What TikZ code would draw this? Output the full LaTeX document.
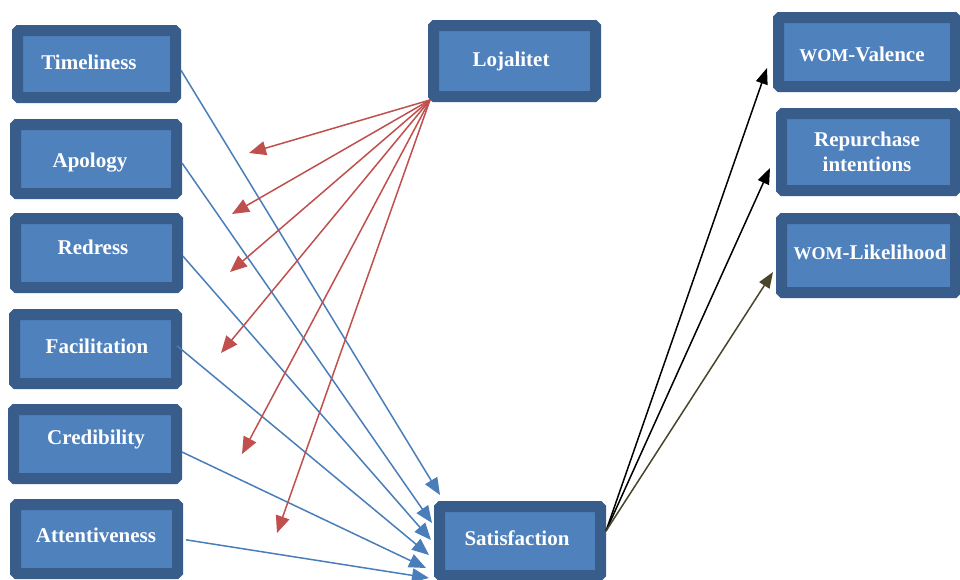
\documentclass[tikz,border=0pt]{standalone}
\usepackage{fontspec}
\setmainfont{Liberation Serif}
\usetikzlibrary{arrows.meta,calc}
\definecolor{boxdark}{HTML}{385D8A}
\definecolor{boxlight}{HTML}{4F81BD}
\definecolor{lineblue}{HTML}{4A7EBB}
\definecolor{linered}{HTML}{C0504D}
\definecolor{lineolive}{HTML}{4A452A}
\tikzset{
  box/.style={draw=boxdark, fill=boxlight, line width=11pt, rounded corners=1.5pt,
    inner sep=0pt},
  boxtext/.style={text=white, align=center, inner sep=0pt, text height=14pt, text depth=0pt,
    font=\fontsize{21}{25}\selectfont\bfseries},
  tip/.style={-{Triangle[length=17pt,width=14pt]}, line width=1.5pt},
  bluearrow/.style={tip, draw=lineblue},
  redarrow/.style={tip, draw=linered},
  blackarrow/.style={-{Triangle[length=16pt,width=12pt]}, line width=1.5pt, draw=black},
  olivearrow/.style={blackarrow, draw=lineolive},
}
\newcommand{\smallwom}{{\fontsize{18}{25}\selectfont WOM}}
\begin{document}
\begin{tikzpicture}[x=1pt,y=-1pt]
\useasboundingbox[fill=white] (0,0) rectangle (960,579);

% boxes
\node[box, minimum width=158pt, minimum height=67pt] (Timeliness) at (96.5,64) {};
\node[box, minimum width=161pt, minimum height=69pt] (Apology) at (96,159) {};
\node[box, minimum width=162pt, minimum height=69pt] (Redress) at (96.5,253) {};
\node[box, minimum width=162pt, minimum height=69pt] (Facilitation) at (95.5,349) {};
\node[box, minimum width=163pt, minimum height=69pt] (Credibility) at (95,444) {};
\node[box, minimum width=162pt, minimum height=69pt] (Attentiveness) at (96.5,539) {};
\node[box, minimum width=162pt, minimum height=71pt] (Lojalitet) at (514.5,61) {};
\node[box, minimum width=161pt, minimum height=69pt] (Satisfaction) at (520,541) {};
\node[box, minimum width=177pt, minimum height=69pt] (WOMValence) at (867,52) {};
\node[box, minimum width=174pt, minimum height=77pt] (Repurchase) at (868.5,152) {};
\node[box, minimum width=174pt, minimum height=74pt] (WOMLikelihood) at (868.5,255.5) {};

% texts
\node[boxtext] (tTimeliness) at (89,62) {Timeliness};
\node[boxtext] (tApology) at (90,160) {Apology};
\node[boxtext] (tRedress) at (93,247) {Redress};
\node[boxtext] (tFacilitation) at (97,346) {Facilitation};
\node[boxtext] (tCredibility) at (96,437) {Credibility};
\node[boxtext] (tAttentiveness) at (96,535) {Attentiveness};
\node[boxtext] (tLojalitet) at (511,59) {Lojalitet};
\node[boxtext] (tSatisfaction) at (517,538) {Satisfaction};
\node[boxtext] (tWOMValence) at (862,54) {\smallwom-Valence};
\node[boxtext, text height=39pt] (tRepurchase) at (867,152) {Repurchase\\intentions};
\node[boxtext] (tWOMLikelihood) at (870,252) {\smallwom-Likelihood};

% free ends
\coordinate (b1) at (440,495);
\coordinate (b2) at (432,523);
\coordinate (b3) at (431,540);
\coordinate (b4) at (429,555);
\coordinate (b5) at (426,568);
\coordinate (b6) at (429,578);
\coordinate (r1) at (249,153);
\coordinate (r2) at (232,214);
\coordinate (r3) at (230,272);
\coordinate (r4) at (221,353);
\coordinate (r5) at (242,454);
\coordinate (r6) at (277,533);
\coordinate (k1) at (767,68);
\coordinate (k2) at (770,168);
\coordinate (k3) at (773,272);

% blue connectors
\draw[bluearrow] ($(Timeliness.north east)!0.58!(Timeliness.south east)$) -- (b1);
\draw[bluearrow] ($(Apology.north east)!0.55!(Apology.south east)$) -- (b2);
\draw[bluearrow] ($(Redress.north east)!0.54!(Redress.south east)$) -- (b3);
\draw[bluearrow] ([xshift=-5pt]$(Facilitation.north east)!0.46!(Facilitation.south east)$) -- (b4);
\draw[bluearrow] ($(Credibility.north east)!0.6!(Credibility.south east)$) -- (b5);
\draw[bluearrow] ([xshift=3pt]$(Attentiveness.north east)!0.51!(Attentiveness.south east)$) -- (b6);

% red connectors
\foreach \r in {r1,r2,r3,r4,r5,r6}
  \draw[redarrow] ([shift={(2pt,2pt)}]Lojalitet.south west) -- (\r);

% black connectors
\draw[blackarrow] ([yshift=10pt]Satisfaction.east) -- (k1);
\draw[blackarrow] ([yshift=10pt]Satisfaction.east) -- (k2);
\draw[olivearrow] ([yshift=10pt]Satisfaction.east) -- (k3);
\end{tikzpicture}
\end{document}
